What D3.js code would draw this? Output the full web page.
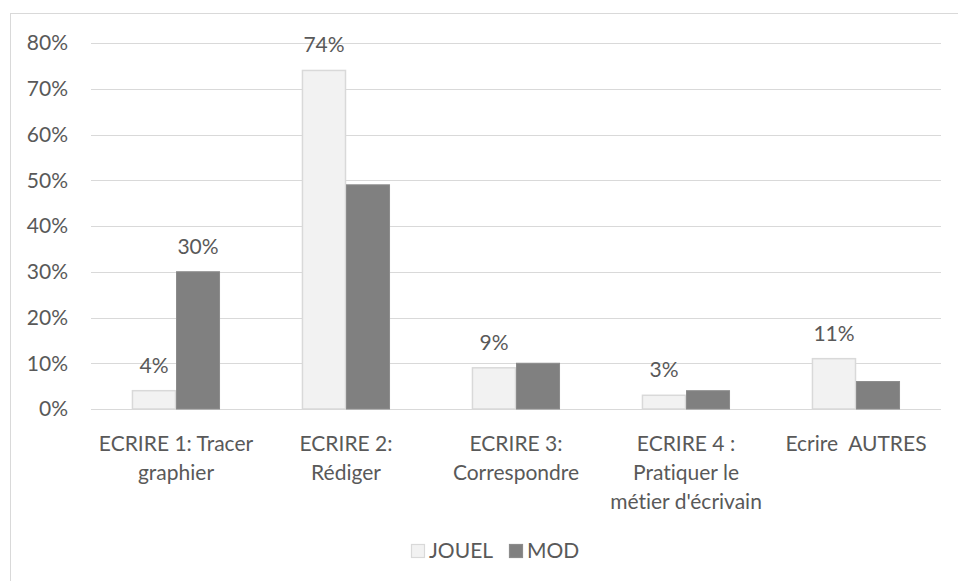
<!DOCTYPE html>
<html>
<head>
<meta charset="utf-8">
<script src="https://cdn.jsdelivr.net/npm/d3@7"></script>
<style>
  html, body { margin: 0; padding: 0; background: #fff; }
  svg { display: block; }
  text { font-family: Lato, "Open Sans", sans-serif; fill: #595959; font-variant-ligatures: none; font-feature-settings: "liga" 0; }
</style>
</head>
<body>
<svg id="chart" width="958" height="581"></svg>
<script>
// ---- data ----
const categories = ["ECRIRE 1: Tracer graphier", "ECRIRE 2: Rédiger", "ECRIRE 3: Correspondre", "ECRIRE 4 : Pratiquer le métier d'écrivain", "Ecrire  AUTRES"];
const categoryLines = [
  ["ECRIRE 1: Tracer", "graphier"],
  ["ECRIRE 2:", "Rédiger"],
  ["ECRIRE 3:", "Correspondre"],
  ["ECRIRE 4 :", "Pratiquer le", "métier d'écrivain"],
  ["Ecrire  AUTRES"]
];
const seriesNames = ["JOUEL", "MOD"];
const jouelValues = [4, 74, 9, 3, 11];
const modValues = [30, 49, 10, 4, 6];
const jouelLabels = ["4%", "74%", "9%", "3%", "11%"];
const modLabels = ["30%", null, null, null, null];
const yTicks = [0, 10, 20, 30, 40, 50, 60, 70, 80];
const yTickLabels = ["0%", "10%", "20%", "30%", "40%", "50%", "60%", "70%", "80%"];

// ---- layout ----
const svg = d3.select("#chart");
const plot = { left: 91, right: 941, top: 43, bottom: 409 };
const fontSize = 21;

svg.append("rect")
  .attr("x", 10.5).attr("y", 13.5)
  .attr("width", 1000).attr("height", 700)
  .attr("fill", "#fff").attr("stroke", "#d9d9d9").attr("stroke-width", 1);

const x0 = d3.scaleBand().domain(categories).range([plot.left, plot.right])
  .paddingInner(0.482).paddingOuter(0.241);
const x1 = d3.scaleBand().domain(seriesNames).range([0, x0.bandwidth()]);
const y = d3.scaleLinear().domain([0, 80]).range([plot.bottom, plot.top]);

// gridlines
svg.append("g").selectAll("line").data(yTicks).join("line")
  .attr("x1", plot.left).attr("x2", plot.right)
  .attr("y1", d => Math.round(y(d)) + 0.5).attr("y2", d => Math.round(y(d)) + 0.5)
  .attr("stroke", "#d9d9d9").attr("stroke-width", 1.2);

// y tick labels
svg.append("g").selectAll("text").data(yTicks).join("text")
  .attr("x", 68).attr("y", d => y(d))
  .attr("dy", "0.35em")
  .attr("text-anchor", "end")
  .style("font-size", fontSize + "px")
  .text((d, i) => yTickLabels[i]);

const colors = { JOUEL: "#f2f2f2", MOD: "#808080" };
const strokes = { JOUEL: "#d9d9d9", MOD: "#8c8c8c" };
const values = { JOUEL: jouelValues, MOD: modValues };
const labels = { JOUEL: jouelLabels, MOD: modLabels };

const groups = svg.append("g").selectAll("g").data(categories).join("g")
  .attr("transform", d => `translate(${x0(d)},0)`);

seriesNames.forEach(s => {
  groups.append("rect")
    .attr("x", x1(s) + 0.5)
    .attr("y", (d, i) => y(values[s][i]))
    .attr("width", x1.bandwidth() - 1)
    .attr("height", (d, i) => y(0) - y(values[s][i]))
    .attr("fill", colors[s])
    .attr("stroke", strokes[s])
    .attr("stroke-width", s === "JOUEL" ? 1.5 : 1);
});

seriesNames.forEach(s => {
  groups.filter((d, i) => labels[s][i] !== null).append("text")
    .attr("x", x1(s) + x1.bandwidth() / 2)
    .attr("y", d => y(values[s][categories.indexOf(d)]) - 18)
    .attr("text-anchor", "middle")
    .style("font-size", fontSize + "px")
    .text(d => labels[s][categories.indexOf(d)]);
});

// category labels
const catG = svg.append("g").selectAll("text").data(categories).join("text")
  .attr("text-anchor", "middle")
  .attr("xml:space", "preserve")
  .style("white-space", "pre")
  .style("font-size", fontSize + "px")
  .attr("transform", d => `translate(${x0(d) + x0.bandwidth() / 2},0)`);
catG.selectAll("tspan").data((d, i) => categoryLines[i]).join("tspan")
  .attr("x", 0)
  .attr("y", (d, j) => 451 + j * 29)
  .text(d => d);

// legend
const legend = svg.append("g");
const legendItems = [
  { name: "JOUEL", x: 411 },
  { name: "MOD", x: 509 }
];
legend.selectAll("rect").data(legendItems).join("rect")
  .attr("x", d => d.x + 0.5).attr("y", 544.5)
  .attr("width", 13).attr("height", 13)
  .attr("fill", d => colors[d.name])
  .attr("stroke", d => strokes[d.name]).attr("stroke-width", 1.2);
legend.selectAll("text").data(legendItems).join("text")
  .attr("x", d => d.x + 18).attr("y", 558)
  .style("font-size", fontSize + "px")
  .text(d => d.name);
</script>
</body>
</html>
